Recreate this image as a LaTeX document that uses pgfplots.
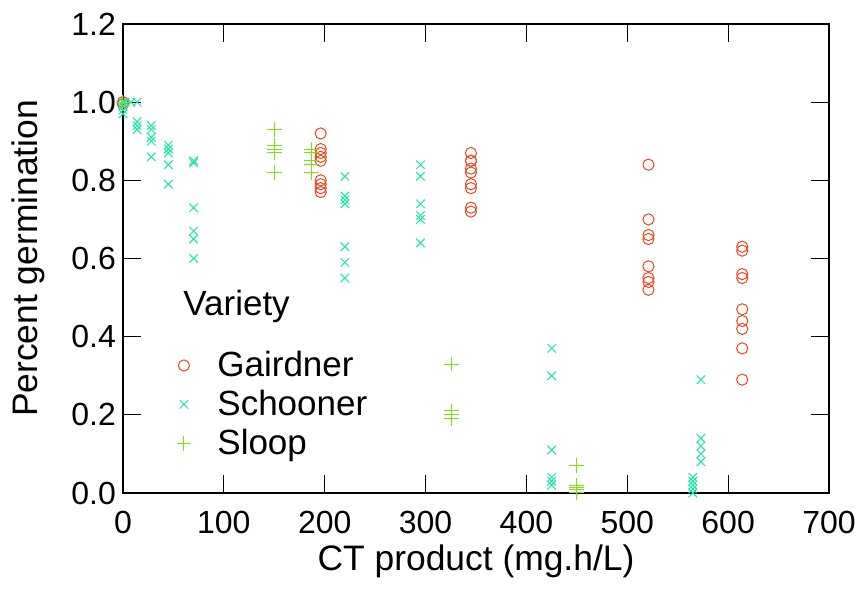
\documentclass[border=0pt]{standalone}
\usepackage{pgfplots}
\pgfplotsset{compat=1.18}
\usepackage{fontspec}
\setmainfont{Liberation Sans}
\definecolor{cG}{RGB}{235,70,30}
\definecolor{cS}{RGB}{25,230,170}
\definecolor{cL}{RGB}{125,225,10}
\begin{document}
\begin{tikzpicture}
\useasboundingbox (-61.5pt,-47.5pt) rectangle (368.5pt,246.5pt);
\begin{axis}[
  at={(0,0)}, anchor=south west,
  scale only axis,
  width=353pt, height=234.5pt,
  xmin=0, xmax=700, ymin=0, ymax=1.2,
  xtick={0,100,...,700},
  ytick={0,0.2,...,1.2},
  yticklabel style={/pgf/number format/.cd,fixed,fixed zerofill,precision=1},
  /pgf/number format/assume math mode=true,
  tick align=inside, tick pos=both,
  major tick length=9pt,
  every tick/.style={black, line width=0.6pt},
  axis line style={line width=0.6pt},
  tick label style={font=\fontsize{16}{19}\selectfont},
  xticklabel style={anchor=base, yshift=-20pt},
  label style={font=\fontsize{17.7}{21}\selectfont},
  xlabel={CT product (mg.h/L)},
  ylabel={Percent germination},
  xlabel style={at={(axis description cs:0.5,-0.1642)}, anchor=base},
  ylabel style={at={(axis description cs:-0.1204,0.5)}, anchor=base},
  clip=false,
  legend style={draw=none, fill=none, at={(axis cs:47.6,0.3635)}, anchor=north west,
    font=\fontsize{17.5}{21}\selectfont, row sep=5.25pt, column sep=10.5pt,
    inner xsep=0pt, inner ysep=0pt,
    nodes={inner sep=0pt}},
  legend cell align=left,
  legend image code/.code={\path (-6pt,0) (6pt,0); \draw[#1] plot coordinates {(0pt,0pt)};},
]
\addplot[only marks, mark=o, mark size=2.8pt, color=cG, line width=0.5pt] coordinates {
(0,1.0)(0,1.0)(0,0.995)
(196,0.92)(196,0.88)(196,0.87)(196,0.86)(196,0.85)(196,0.80)(196,0.79)(196,0.78)(196,0.77)
(345,0.87)(345,0.85)(345,0.85)(345,0.83)(345,0.82)(345,0.79)(345,0.78)(345,0.73)(345,0.72)
(521,0.84)(521,0.70)(521,0.66)(521,0.65)(521,0.58)(521,0.55)(521,0.54)(521,0.52)
(614,0.63)(614,0.62)(614,0.56)(614,0.55)(614,0.47)(614,0.44)(614,0.42)(614,0.37)(614,0.29)
};
\addlegendentry{Gairdner}
\addplot[only marks, mark=x, mark size=3pt, color=cS, line width=0.5pt] coordinates {
(0,1.0)(0,0.99)(0,0.98)(0,0.97)
(2,1.0)(8,1.0)(14,1.0)
(14,0.95)(14,0.94)(14,0.93)
(28,0.94)(28,0.93)(28,0.91)(28,0.90)(28,0.86)
(45,0.89)(45,0.88)(45,0.87)(45,0.84)(45,0.79)
(70,0.85)(70,0.845)(70,0.73)(70,0.67)(70,0.65)(70,0.60)
(220,0.81)(220,0.76)(220,0.75)(220,0.74)(220,0.63)(220,0.59)(220,0.55)
(295,0.84)(295,0.81)(295,0.74)(295,0.71)(295,0.70)(295,0.64)
(425,0.37)(425,0.30)(425,0.11)(425,0.04)(425,0.03)(425,0.02)
(565,0.04)(565,0.03)(565,0.02)(565,0.01)(565,0.0)
(573,0.29)(573,0.14)(573,0.12)(573,0.10)(573,0.08)
};
\addlegendentry{Schooner}
\addplot[only marks, mark=+, mark size=3.7pt, color=cL, line width=0.5pt] coordinates {
(0,1.0)
(150,0.93)(150,0.89)(150,0.88)(150,0.87)(150,0.82)
(187,0.88)(187,0.87)(187,0.85)(187,0.84)(187,0.82)
(326,0.33)(326,0.21)(326,0.20)(326,0.19)
(450,0.07)(450,0.02)(450,0.015)(450,0.01)(450,0.0)
};
\addlegendentry{Sloop}
\node[anchor=base west, inner sep=0pt, font=\fontsize{17.5}{21}\selectfont] at (axis cs:59.5,0.455) {Variety};
\end{axis}
\end{tikzpicture}
\end{document}
